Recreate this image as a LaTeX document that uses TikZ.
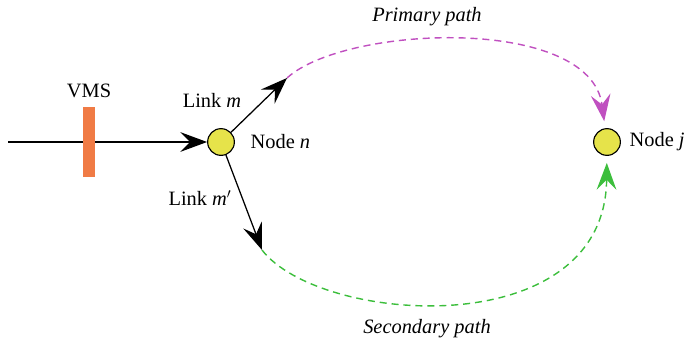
\documentclass[tikz,border=0pt]{standalone}
\usepackage{fontspec}
\setmainfont{Liberation Serif}
\usetikzlibrary{arrows.meta,positioning}
\definecolor{vmsorange}{RGB}{240,123,69}
\definecolor{nodeyellow}{RGB}{230,227,74}
\definecolor{primmagenta}{RGB}{192,80,192}
\definecolor{secgreen}{RGB}{60,190,60}
\tikzset{
  junction/.style={
    circle,
    draw=black,
    line width=0.8pt,
    fill=nodeyellow,
    minimum size=19pt,
    inner sep=0pt
  },
  vmsbar/.style={
    rectangle,
    fill=vmsorange,
    minimum width=8.5pt,
    minimum height=50pt,
    inner sep=0pt
  },
  lbl/.style={
    inner sep=1pt
  },
  link/.style={
    -{Stealth[length=19pt,width=14pt,inset=7pt]},
    line width=0.9pt,
    black
  },
  primary/.style={
    -{Stealth[length=19pt,width=14pt,inset=7pt]},
    line width=1pt,
    dash pattern=on 5pt off 3.5pt,
    primmagenta,
    shorten >=5pt
  },
  secondary/.style={
    -{Stealth[length=19pt,width=14pt,inset=7pt]},
    line width=1pt,
    dash pattern=on 5pt off 3.5pt,
    secgreen,
    shorten >=5pt
  }
}

\begin{document}
\begin{tikzpicture}[x=0.025cm,y=-0.025cm,font=\fontsize{14.5}{17}\selectfont]
\useasboundingbox (0,0) rectangle (688,342);
\node[junction] (n) at (221,142) {};
\node[junction] (j) at (607,142) {};
\node[lbl,right=10pt of n] (nlab) {Node \textit{n}};
\node[lbl,right=5pt of j] (jlab) {Node \textit{j}};
\coordinate (in) at (8,142);
\coordinate (mtip) at (287,78);
\coordinate (mptip) at (262,250);
\draw[link] (in) -- (n);
\node[vmsbar] (vms) at (89,142) {};
\node[lbl,above=5pt of vms] (vmslab) {VMS};
\draw[link] (n) -- (mtip);
\draw[link] (n) -- (mptip);
\node[lbl] (mlab) at (212,100) {Link \textit{m}};
\node[lbl] (mplab) at (200,198) {Link \textit{m}$'$};
% paths to node j
\draw[primary] (mtip) .. controls (345,25) and (590,15) .. (j);
\draw[secondary] (mptip) .. controls (320,325) and (605,345) .. (j);
\node[lbl] (primlab) at (427,17) {\textit{Primary path}};
\node[lbl] (seclab) at (427,329) {\textit{Secondary path}};
\end{tikzpicture}
\end{document}
